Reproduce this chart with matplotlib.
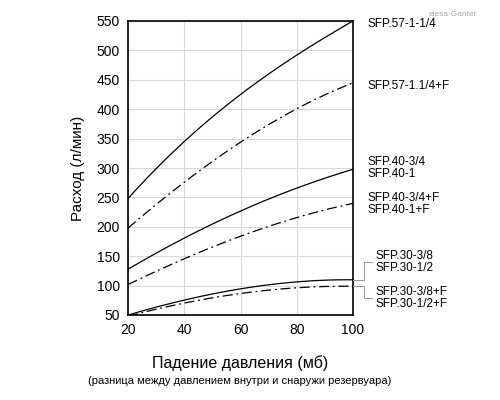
import matplotlib
matplotlib.use("Agg")
import matplotlib.pyplot as plt
import numpy as np

x = [20, 40, 60, 80, 100]
s57 = [248, 345, 425, 492, 550]
s57f = [198, 275, 345, 400, 445]
s40 = [128, 180, 228, 265, 298]
s40f = [102, 145, 185, 215, 240]
s30 = [50, 75, 95, 106, 110]
s30f = [48, 70, 87, 96, 99]

plt.rcParams['font.family'] = ['Liberation Sans', 'DejaVu Sans']
fig = plt.figure(figsize=(5, 4), dpi=100)
ax = fig.add_axes([0.256, 0.2125, 0.45, 0.735])
solid = dict(color='black', lw=0.9)
dash = dict(color='black', lw=0.9, linestyle=(0, (8, 3, 1.5, 3)))
def smooth(xs, ys):
    xx = np.linspace(20, 100, 200)
    c = np.polyfit(xs, ys, 3)
    return xx, np.polyval(c, xx)
for ys, st in [(s57, solid), (s57f, dash), (s40, solid), (s40f, dash), (s30, solid), (s30f, dash)]:
    ax.plot(*smooth(x, ys), **st)
ax.set_xlim(20, 100)
ax.set_ylim(50, 550)
ax.set_xticks([20, 40, 60, 80, 100])
ax.set_yticks(range(50, 551, 50))
ax.grid(True, color='#d8d8d8', lw=0.8)
ax.tick_params(length=0, labelsize=10, pad=6)
for sp in ax.spines.values():
    sp.set_linewidth(1.2)
ax.set_ylabel('Расход (л/мин)', fontsize=11, labelpad=8)
def ty(p): return 1 - p / 400
fig.text(0.48, ty(363), 'Падение давления (мб)', ha='center', va='center', fontsize=11.5)
fig.text(0.48, ty(381), '(разница между давлением внутри и снаружи резервуара)', ha='center', va='center', fontsize=8)
tk = dict(fontsize=8.5, va='center', transform=fig.transFigure)
fig.text(367/500, ty(24), 'SFP.57-1-1/4', **tk)
fig.text(367/500, ty(86), 'SFP.57-1.1/4+F', **tk)
fig.text(367/500, ty(168), 'SFP.40-3/4\nSFP.40-1', linespacing=1.1, **tk)
fig.text(367/500, ty(204), 'SFP.40-3/4+F\nSFP.40-1+F', linespacing=1.1, **tk)
fig.text(375/500, ty(262), 'SFP.30-3/8\nSFP.30-1/2', linespacing=1.1, **tk)
fig.text(375/500, ty(298), 'SFP.30-3/8+F\nSFP.30-1/2+F', linespacing=1.1, **tk)
lc = dict(color='#999999', lw=0.7, transform=fig.transFigure)
fig.add_artist(plt.Line2D([353/500, 364/500, 364/500, 372/500], [ty(280), ty(280), ty(262), ty(262)], **lc))
fig.add_artist(plt.Line2D([353/500, 364/500, 364/500, 372/500], [ty(286), ty(286), ty(298), ty(298)], **lc))
fig.text(0.955, 0.965, 'elesa·Ganter', fontsize=6, color='#aaaaaa', ha='right', va='center')
fig.savefig('out.png', dpi=100)
